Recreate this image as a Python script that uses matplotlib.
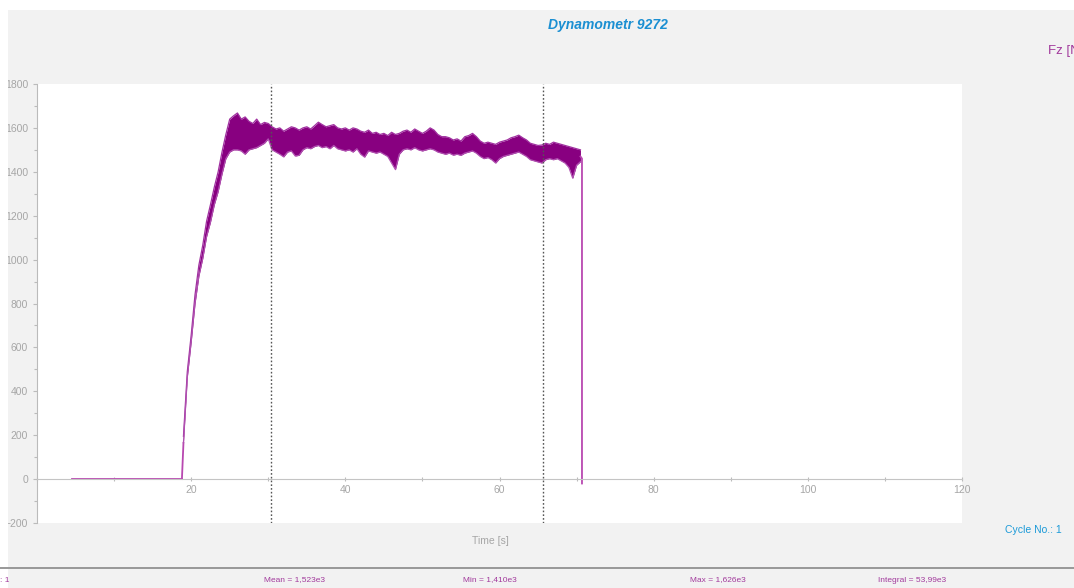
import numpy as np
import matplotlib.pyplot as plt
from matplotlib.patches import Rectangle
from matplotlib.ticker import MultipleLocator

plt.rcParams['font.family'] = ['Liberation Sans', 'DejaVu Sans']

# Fz signal: idle part, then upper/lower envelope of the noisy cut sampled every 0.5 s
idle_t = [4.5, 18.8]
idle_fz = [0, 0]

cut_t = np.arange(19.0, 70.75, 0.5)
fz_hi = [195, 490, 655, 840, 975, 1065, 1175, 1250, 1330, 1400, 1490, 1570,
         1640, 1655, 1668, 1640, 1650, 1630, 1620, 1640, 1615, 1625, 1620,
         1605, 1595, 1600, 1585, 1595, 1605, 1600, 1590, 1600, 1605, 1595,
         1610, 1626, 1615, 1605, 1610, 1615, 1600, 1595, 1600, 1590, 1600,
         1595, 1585, 1580, 1590, 1575, 1580, 1570, 1575, 1565, 1580, 1570,
         1575, 1585, 1590, 1580, 1595, 1585, 1575, 1585, 1600, 1590, 1570,
         1560, 1560, 1555, 1545, 1550, 1540, 1560, 1565, 1575, 1560, 1540,
         1530, 1535, 1530, 1525, 1535, 1540, 1545, 1555, 1560, 1567, 1555,
         1545, 1530, 1525, 1520, 1522, 1530, 1525, 1535, 1530, 1525, 1520,
         1515, 1510, 1505, 1500]
fz_lo = [165, 465, 625, 800, 925, 1005, 1105, 1170, 1250, 1310, 1390, 1460,
         1490, 1500, 1500, 1495, 1480, 1500, 1505, 1510, 1520, 1530, 1550,
         1500, 1490, 1480, 1468, 1490, 1495, 1472, 1475, 1500, 1510, 1505,
         1515, 1520, 1510, 1515, 1505, 1520, 1505, 1500, 1495, 1500, 1490,
         1505, 1480, 1467, 1495, 1490, 1485, 1490, 1480, 1470, 1440, 1410,
         1480, 1500, 1505, 1500, 1510, 1500, 1495, 1500, 1505, 1500, 1490,
         1485, 1480, 1485, 1476, 1480, 1475, 1485, 1490, 1495, 1485, 1470,
         1460, 1465, 1455, 1440, 1460, 1470, 1475, 1480, 1485, 1490, 1480,
         1470, 1455, 1450, 1445, 1440, 1455, 1460, 1455, 1460, 1450, 1440,
         1420, 1371, 1430, 1446]

# release of the tool at the end of the cut
release_t = [70.5, 70.7, 70.7]
release_fz = [1470, 1460, -20]

cursors = [30.3, 65.7]

stats = ["Mean = 1,523e3", "Min = 1,410e3", "Max = 1,626e3", "Integral = 53,99e3"]
stats_x = [295, 490, 718, 912]

W, H = 1074, 588
fig = plt.figure(figsize=(W / 100, H / 100), dpi=100, facecolor='#f2f2f2')

# white margins at top/left and the status strip at the bottom
fig.patches.append(Rectangle((0, 1 - 10 / H), 1, 10 / H, transform=fig.transFigure,
                             facecolor='white', edgecolor='none', zorder=0))
fig.patches.append(Rectangle((0, 0), 8 / W, 1, transform=fig.transFigure,
                             facecolor='white', edgecolor='none', zorder=0))
fig.patches.append(Rectangle((0, 1 - 569 / H), 1, 2.5 / H, transform=fig.transFigure,
                             facecolor='#9a9a9a', edgecolor='none', zorder=1))

ax = fig.add_axes([37 / W, 1 - 523 / H, 925 / W, 439 / H])
ax.set_facecolor('white')

purple = '#880080'
ax.plot(idle_t, idle_fz, color='#b848b0', lw=1.3, zorder=2)
ax.plot([idle_t[-1], cut_t[0]], [0, fz_lo[0]], color='#b848b0', lw=1.3, zorder=2)
ax.fill_between(cut_t, fz_lo, fz_hi, color=purple, lw=0, zorder=2)
ax.plot(cut_t, fz_hi, color='#a030a0', lw=0.9, zorder=2)
ax.plot(cut_t, fz_lo, color='#b050b0', lw=0.9, zorder=2)
ax.plot(release_t, release_fz, color='#b848b0', lw=1.3, zorder=2)

for c in cursors:
    ax.axvline(c, color='#555555', lw=1.0, ls=(0, (1.2, 1.5)), zorder=3)

ax.set_xlim(0, 120)
ax.set_ylim(-200, 1800)

for s in ['top', 'right']:
    ax.spines[s].set_visible(False)
ax.spines['bottom'].set_position(('data', 0))
ax.spines['bottom'].set_color('#c4c4c4')
ax.spines['left'].set_color('#bbbbbb')

ax.xaxis.set_major_locator(MultipleLocator(20))
ax.xaxis.set_minor_locator(MultipleLocator(10))
ax.yaxis.set_major_locator(MultipleLocator(200))
ax.yaxis.set_minor_locator(MultipleLocator(100))
ax.set_xticks([20, 40, 60, 80, 100, 120])
ax.tick_params(axis='both', which='both', colors='#bbbbbb', labelcolor='#a6a6a6',
               labelsize=7.5, length=3, width=0.8)
ax.tick_params(axis='x', which='both', direction='inout', length=3, pad=3)
ax.tick_params(axis='y', which='minor', length=2)

ax.text(0.49, -0.03, 'Time [s]', transform=ax.transAxes, ha='center', va='top',
        fontsize=7.5, color='#a6a6a6')

fig.text(608 / W, 1 - 25 / H, 'Dynamometr 9272', ha='center', va='center',
         fontsize=10, fontweight='bold', fontstyle='italic', color='#1b8fd2')
fig.text(1048 / W, 1 - 51 / H, 'Fz [N', ha='left', va='center',
         fontsize=9.5, color='#a23a9c')
fig.text(1033 / W, 1 - 530 / H, 'Cycle No.: 1', ha='center', va='center',
         fontsize=7.5, color='#1b9ad8')

fig.text(0 / W, 1 - 580 / H, ': 1', ha='left', va='center', fontsize=6, color='#a23a9c')
for label, x in zip(stats, stats_x):
    fig.text(x / W, 1 - 580 / H, label, ha='center', va='center',
             fontsize=6, color='#a23a9c')

fig.savefig('out.png', dpi=100, facecolor=fig.get_facecolor())
